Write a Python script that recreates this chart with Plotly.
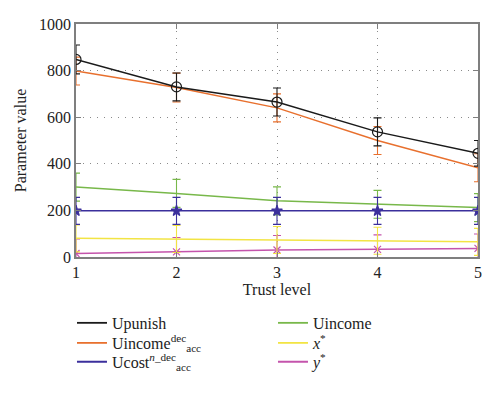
import plotly.graph_objects as go

trust = [1, 2, 3, 4, 5]
upunish = [848, 730, 665, 537, 445]
upunish_err = [62, 60, 60, 60, 55]
uincome_dec = [798, 727, 640, 500, 383]
uincome_dec_err = [60, 62, 60, 60, 60]
ucost = [198, 198, 198, 198, 198]
ucost_err = [58, 58, 58, 58, 58]
uincome = [300, 273, 241, 226, 212]
uincome_err = [60, 60, 60, 60, 60]
xstar = [80, 77, 73, 70, 65]
xstar_err = [58, 58, 58, 58, 58]
ystar = [15, 22, 30, 33, 37]
ystar_err = [62, 62, 62, 62, 62]

names = ["Upunish", "Uincome<sup>dec</sup><sub>acc</sub>", "Ucost<sup><i>n</i>_dec</sup><sub>acc</sub>",
         "Uincome", "<i>x</i><sup>*</sup>", "<i>y</i><sup>*</sup>"]
xticks = [1, 2, 3, 4, 5]
yticks = [0, 200, 400, 600, 800, 1000]

C_BLACK = "#1a1a1a"
C_ORANGE = "#e8702e"
C_BLUE = "#3b2f9c"
C_GREEN = "#78b84a"
C_YELLOW = "#f2e444"
C_MAGENTA = "#c454ac"

FONT = "Liberation Serif, Times New Roman, serif"

fig = go.Figure()

def add(y, err, color, marker, msize=8):
    fig.add_trace(go.Scatter(
        x=trust, y=y, mode="lines+markers" if marker else "lines",
        line=dict(color=color, width=1.5),
        marker=dict(symbol=marker or "circle", size=msize, color=color,
                    line=dict(color=color, width=1.2)),
        error_y=dict(type="data", array=err, visible=True, color=color, thickness=1.1, width=4),
        showlegend=False,
    ))

# draw order: lower layers first
add(ystar, ystar_err, C_MAGENTA, "x-thin-open", 7)
add(xstar, xstar_err, C_YELLOW, None)
add(uincome, uincome_err, C_GREEN, None)
add(ucost, ucost_err, C_BLUE, "star", 8)
add(uincome_dec, uincome_dec_err, C_ORANGE, None)
add(upunish, upunish_err, C_BLACK, "circle-open", 10)

# legend entries (lines only), each in its own legend box for exact placement
leg_colors = [C_BLACK, C_ORANGE, C_BLUE, C_GREEN, C_YELLOW, C_MAGENTA]
row_y = [-0.283, -0.369, -0.450]
col_x = [-0.01, 0.49]
layout_legends = {}
for i, (nm, col) in enumerate(zip(names, leg_colors)):
    key = "legend" if i == 0 else f"legend{i+1}"
    fig.add_trace(go.Scatter(x=[None], y=[None], mode="lines", name=nm,
                             line=dict(color=col, width=1.8), legend=key))
    c, r = divmod(i, 3)
    layout_legends[key] = dict(x=col_x[c], y=row_y[r], xanchor="left", yanchor="middle",
                               font=dict(family=FONT, size=16, color="#222"),
                               bgcolor="rgba(0,0,0,0)", itemwidth=30, borderwidth=0)

axis_common = dict(
    showline=True, linecolor="#7f7f7f", linewidth=1.5, mirror="ticks",
    ticks="inside", ticklen=5, tickcolor="#7f7f7f",
    showgrid=True, gridcolor="#8a8a8a", griddash="1px,6px", gridwidth=1.2,
    zeroline=False, automargin=False,
    tickfont=dict(family=FONT, size=16, color="#222"),
)

fig.update_layout(
    width=500, height=393,
    margin=dict(l=76, r=22, t=24, b=136, autoexpand=False),
    paper_bgcolor="white", plot_bgcolor="white",
    font=dict(family=FONT, size=16, color="#222"),
    xaxis=dict(range=[1, 5], tickvals=xticks,
               title=dict(text="Trust level", font=dict(family=FONT, size=16), standoff=4), **axis_common),
    yaxis=dict(range=[0, 1000], tickvals=yticks,
               title=dict(text="Parameter value", font=dict(family=FONT, size=16), standoff=8), **axis_common),
    **layout_legends,
)

fig.write_html("out.html", config={"displayModeBar": False},
               post_script="document.body.style.margin='0';")
